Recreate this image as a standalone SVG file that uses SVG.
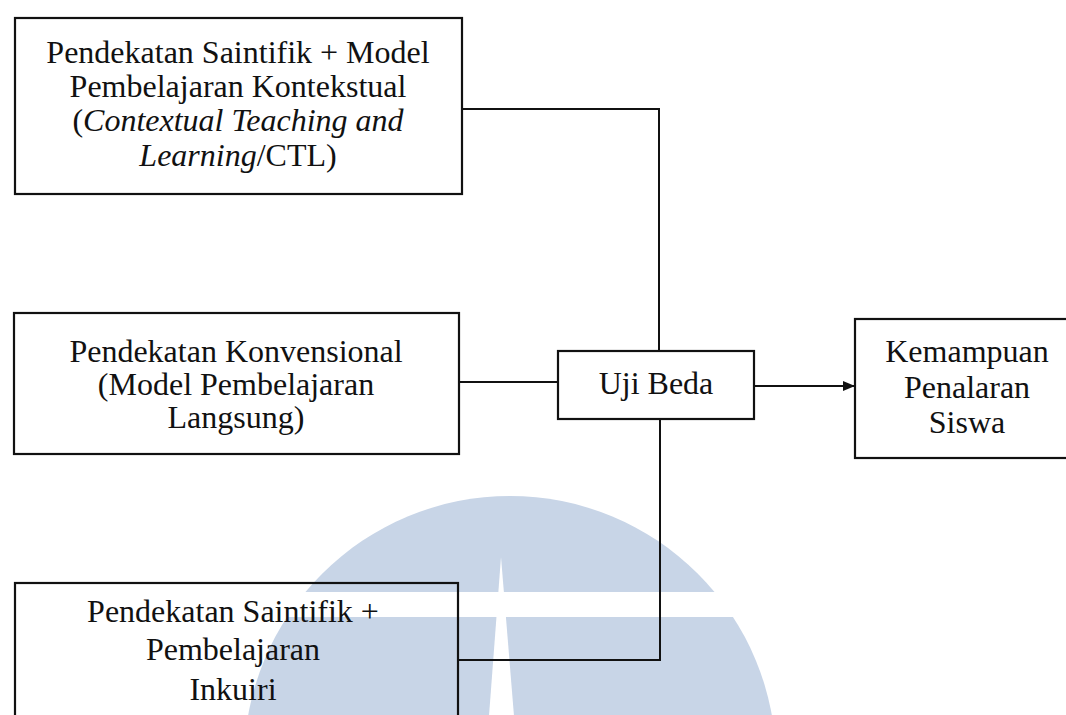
<svg xmlns="http://www.w3.org/2000/svg" width="1066" height="715" viewBox="0 0 1066 715">
  <defs>
    <style>
      .box { fill: none; stroke: #111; stroke-width: 2.2; }
      .t { font-family: "Liberation Serif", "Times New Roman", serif; font-size: 32px; fill: #111; text-anchor: middle; }
      .i { font-style: italic; }
      .ln { fill: none; stroke: #111; stroke-width: 2; }
      .wm { fill: #c8d5e7; }
    </style>
    <marker id="arr" markerWidth="12" markerHeight="10" refX="12" refY="5" orient="auto" markerUnits="userSpaceOnUse">
      <path d="M0,0 L12,5 L0,10 Z" fill="#111"/>
    </marker>
    <clipPath id="wmclip">
      <rect x="0" y="0" width="1066" height="715"/>
    </clipPath>
  </defs>
  <rect x="0" y="0" width="1066" height="715" fill="#ffffff"/>

  <g id="watermark" clip-path="url(#wmclip)">
    <circle class="wm" cx="510" cy="762" r="266"/>
    <rect x="230" y="592" width="560" height="25" fill="#ffffff"/>
    <polygon points="501,557 489,716 514,716" fill="#ffffff"/>
  </g>

  <g id="connectors">
    <polyline class="ln" points="462,109 659,109 659,351"/>
    <line class="ln" x1="459" y1="382" x2="558" y2="382"/>
    <polyline class="ln" points="660,419 660,660 458,660"/>
    <line class="ln" x1="754" y1="386" x2="855" y2="386" marker-end="url(#arr)"/>
  </g>

  <g id="node-ctl">
    <rect class="box" x="15" y="18" width="447" height="176"/>
    <text class="t" x="238" y="63">Pendekatan Saintifik + Model</text>
    <text class="t" x="238" y="97">Pembelajaran Kontekstual</text>
    <text class="t" x="238" y="131">(<tspan class="i">Contextual Teaching and</tspan></text>
    <text class="t" x="238" y="166"><tspan class="i">Learning</tspan>/CTL)</text>
  </g>

  <g id="node-konvensional">
    <rect class="box" x="14" y="313" width="445" height="141"/>
    <text class="t" x="236" y="362">Pendekatan Konvensional</text>
    <text class="t" x="236" y="395">(Model Pembelajaran</text>
    <text class="t" x="236" y="428">Langsung)</text>
  </g>

  <g id="node-inkuiri">
    <rect class="box" x="15" y="583" width="443" height="150"/>
    <text class="t" x="233" y="622">Pendekatan Saintifik +</text>
    <text class="t" x="233" y="660">Pembelajaran</text>
    <text class="t" x="233" y="700">Inkuiri</text>
  </g>

  <g id="node-ujibeda">
    <rect class="box" x="558" y="351" width="196" height="68"/>
    <text class="t" x="656" y="394">Uji Beda</text>
  </g>

  <g id="node-kemampuan">
    <rect class="box" x="855" y="319" width="220" height="139"/>
    <text class="t" x="967" y="362">Kemampuan</text>
    <text class="t" x="967" y="398">Penalaran</text>
    <text class="t" x="967" y="433">Siswa</text>
  </g>
</svg>
